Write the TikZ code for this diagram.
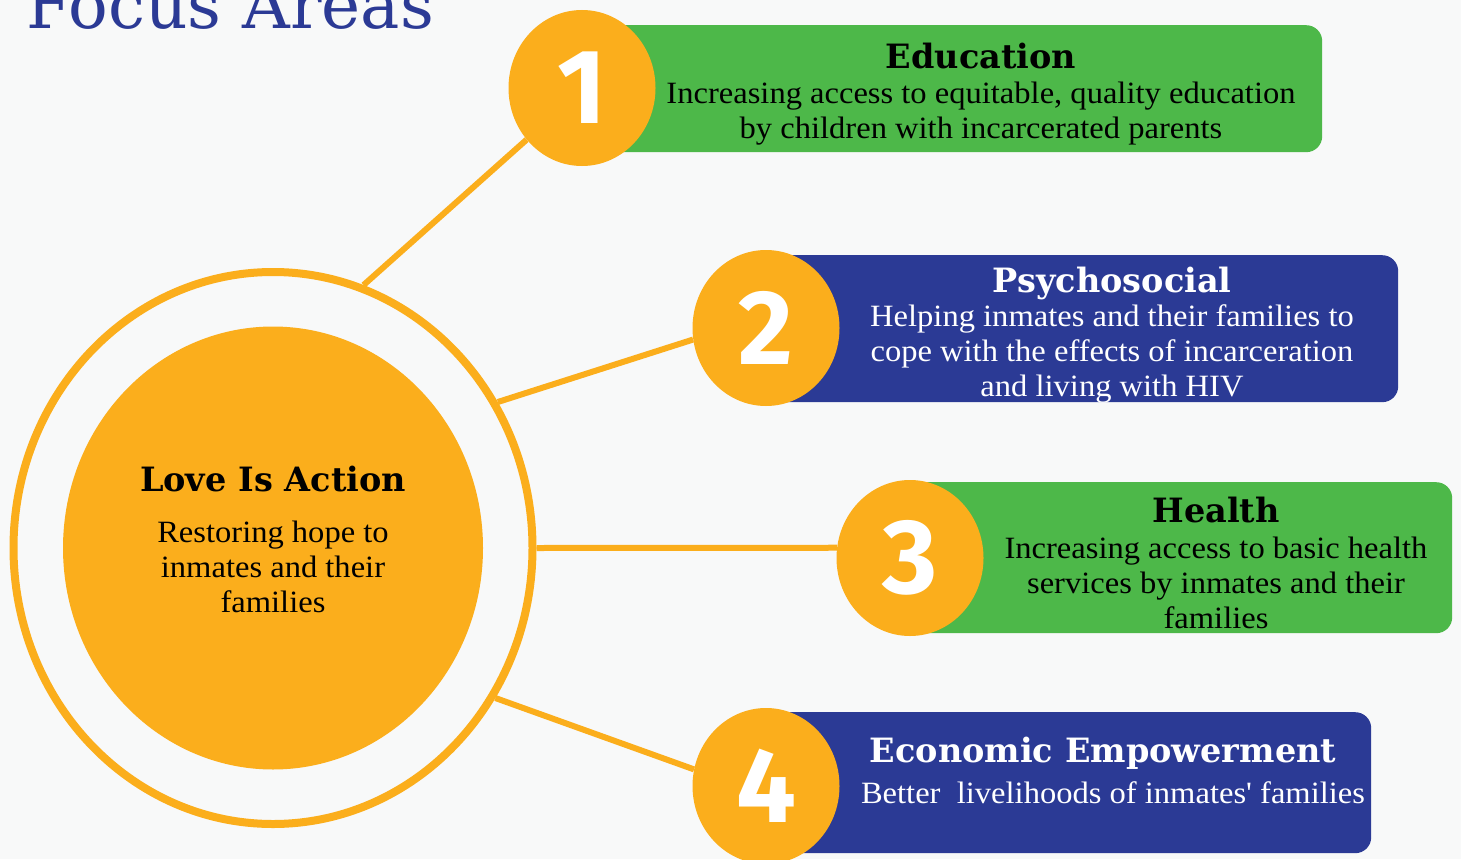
\documentclass[tikz,border=0pt]{standalone}
\usepackage{fontspec}
\setmainfont{Liberation Serif}
\newfontfamily\bodyfont{Liberation Serif}[FakeStretch=1.05]
\newfontfamily\headfont{DejaVu Serif}
\newfontfamily\numfont{Fira Sans}
\usetikzlibrary{shapes.geometric,backgrounds}
\definecolor{orng}{HTML}{FBAE1C}
\definecolor{grn}{HTML}{4DB849}
\definecolor{blu}{HTML}{2B3A95}
\definecolor{bgc}{HTML}{F8F9F9}
\begin{document}
\begin{tikzpicture}[x=1pt,y=-1pt,
  numc/.style={ellipse, fill=orng, minimum width=147pt, minimum height=156pt, inner sep=0pt,
    font=\numfont\bfseries\fontsize{106}{106}\selectfont, text=white},
  card/.style={rectangle, rounded corners=16pt, anchor=north west, inner sep=0pt},
  head/.style={font=\headfont\bfseries\fontsize{33.5}{38}\selectfont, anchor=base, inner sep=0pt},
  body/.style={font=\bodyfont\fontsize{31}{35}\selectfont, align=center, inner sep=0pt},
  link/.style={draw=orng, line width=6pt}]
\useasboundingbox (0,0) rectangle (1461,859);
% title
\node[anchor=base west, inner sep=0pt, text=blu, font=\headfont\fontsize{66}{72}\selectfont] (title) at (26,29) {Focus Areas};
% cards
\node[card, fill=grn, minimum width=740pt, minimum height=127pt] (box1) at (582,25) {};
\node[card, fill=blu, minimum width=632pt, minimum height=147pt] (box2) at (766,255) {};
\node[card, fill=grn, minimum width=542pt, minimum height=151pt] (box3) at (910,482) {};
\node[card, fill=blu, minimum width=605pt, minimum height=141pt] (box4) at (766,712) {};
% central circle
\node[ellipse, draw=orng, line width=8pt, minimum width=519pt, minimum height=552pt, inner sep=0pt] (ring) at (273,548) {};
\node[ellipse, fill=orng, minimum width=420pt, minimum height=443pt, inner sep=0pt] (core) at (273,548) {};
% number circles
\node[numc] (n1) at (582,88) {1};
\node[numc] (n2) at (766,328) {2};
\node[numc] (n3) at (910,558) {3};
\node[numc] (n4) at (766,786) {4};
% texts
\node[head] (h0) at (273,491) {Love Is Action};
\node[body] (t0) at (273,567) {Restoring hope to\\inmates and their\\families};
\node[head] (h1) at (981,68) {Education};
\node[body] (t1) at (981,114) {Increasing access to equitable, quality education\\by children with incarcerated parents};
\node[head, text=white] (h2) at (1112,292) {Psychosocial};
\node[body, text=white] (t2) at (1112,354) {Helping inmates and their families to\\cope with the effects of incarceration\\and living with HIV};
\node[head] (h3) at (1216,522) {Health};
\node[body] (t3) at (1216,583) {Increasing access to basic health\\services by inmates and their\\families};
\node[head, text=white] (h4) at (1103,762) {Economic Empowerment};
\node[body, text=white] (t4) at (1113,793) {Better\ \ livelihoods of inmates{\char39} families};
% background and connectors
\begin{scope}[on background layer]
\fill[bgc] (0,0) rectangle (1461,859);
\draw[link] (ring.71) -- (n1.223);
\draw[link] (ring.33) -- (n2.189);
\draw[link] (ring.0) -- (n3.172);
\draw[link] (ring.-34) -- (n4.167);
\end{scope}
\end{tikzpicture}
\end{document}
